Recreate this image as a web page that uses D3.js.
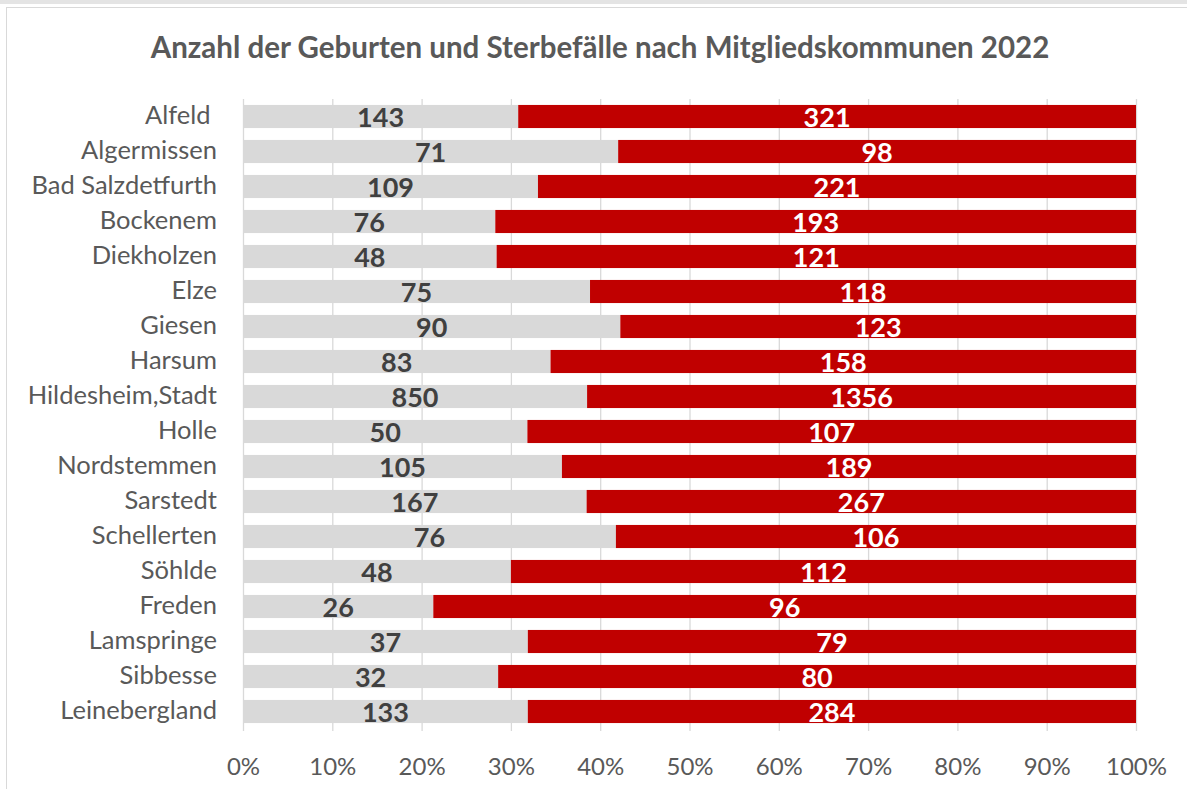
<!DOCTYPE html>
<html><head><meta charset="utf-8">
<script src="https://cdn.jsdelivr.net/npm/d3@7"></script>
<style>body{margin:0;background:#fff}svg{display:block}</style>
</head><body>
<script>
const categories = ["Alfeld ","Algermissen","Bad Salzdetfurth","Bockenem","Diekholzen","Elze","Giesen","Harsum","Hildesheim,Stadt","Holle","Nordstemmen","Sarstedt","Schellerten","Söhlde","Freden","Lamspringe","Sibbesse","Leinebergland"];
const births = [143,71,109,76,48,75,90,83,850,50,105,167,76,48,26,37,32,133];
const deaths = [321,98,221,193,121,118,123,158,1356,107,189,267,106,112,96,79,80,284];
const tickValues = [0,0.1,0.2,0.3,0.4,0.5,0.6,0.7,0.8,0.9,1];
const title = "Anzahl der Geburten und Sterbefälle nach Mitgliedskommunen 2022";

const W = 1187, H = 789;
const font = "Lato, 'Open Sans', sans-serif";
const svg = d3.select("body").append("svg").attr("width", W).attr("height", H);

// frame
svg.append("rect").attr("x",0).attr("y",0).attr("width",W).attr("height",4).attr("fill","#e4e4e4");
svg.append("rect").attr("x",6.5).attr("y",7.5).attr("width",W+20).attr("height",H+20)
  .attr("fill","none").attr("stroke","#d9d9d9");

const x = d3.scaleLinear().domain([0,1]).range([243,1136]);
const y = d3.scaleBand().domain(categories).range([99,729]).paddingInner(0.34).paddingOuter(0.17);

const data = categories.map((c,i)=>{
  const t = births[i]+deaths[i];
  return {c, b:births[i], d:deaths[i], pb:births[i]/t};
});

// gridlines
svg.append("g").selectAll("line").data(tickValues).join("line")
  .attr("x1",d=>x(d)+0.5).attr("x2",d=>x(d)+0.5).attr("y1",99).attr("y2",731)
  .attr("stroke","#d9d9d9").attr("stroke-width",1.3);

// bars
const g = svg.append("g");
g.selectAll("rect.b").data(data).join("rect").attr("class","b")
  .attr("x",x(0)).attr("y",d=>y(d.c)).attr("width",d=>x(d.pb)-x(0)).attr("height",y.bandwidth())
  .attr("fill","#d9d9d9");
g.selectAll("rect.d").data(data).join("rect").attr("class","d")
  .attr("x",d=>x(d.pb)).attr("y",d=>y(d.c)).attr("width",d=>x(1)-x(d.pb)).attr("height",y.bandwidth())
  .attr("fill","#c00000");

// value labels
g.selectAll("text.lb").data(data).join("text").attr("class","lb")
  .attr("x",d=>(x(0)+x(d.pb))/2).attr("y",d=>y(d.c)+y.bandwidth()/2+10.5)
  .attr("text-anchor","middle")
  .attr("font-family",font).attr("font-weight","bold").attr("font-size",27).attr("fill","#404040")
  .text(d=>d.b);
g.selectAll("text.ld").data(data).join("text").attr("class","ld")
  .attr("x",d=>(x(d.pb)+x(1))/2).attr("y",d=>y(d.c)+y.bandwidth()/2+10.5)
  .attr("text-anchor","middle")
  .attr("font-family",font).attr("font-weight","bold").attr("font-size",27).attr("fill","#ffffff")
  .text(d=>d.d);

// category axis
const ya = svg.append("g").attr("transform","translate(243,0)")
  .call(d3.axisLeft(y).tickSize(0).tickPadding(26));
ya.select(".domain").remove();
ya.selectAll("text").attr("font-family",font).attr("font-size",25.5).attr("fill","#595959")
  .attr("dy","0.28em").style("white-space","pre");

// x axis
const xa = svg.append("g").attr("transform","translate(0,748)")
  .call(d3.axisBottom(x).tickValues(tickValues).tickFormat(d3.format(".0%")).tickSize(0).tickPadding(10));
xa.select(".domain").remove();
xa.selectAll("text").attr("font-family",font).attr("font-size",24).attr("fill","#595959");

// title
svg.append("text").attr("x",600).attr("y",58).attr("text-anchor","middle")
  .attr("font-family",font).attr("font-weight","bold").attr("font-size",29.5).attr("fill","#595959")
  .text(title);
</script>
</body></html>
